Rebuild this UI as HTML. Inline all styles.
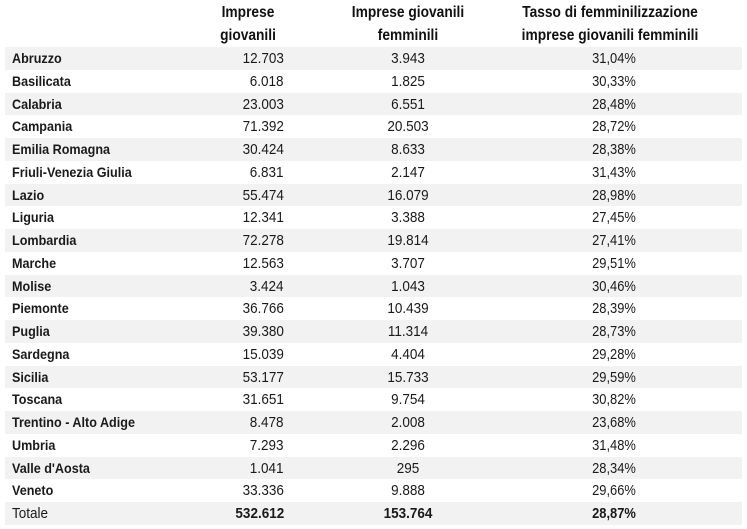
<!DOCTYPE html>
<html><head><meta charset="utf-8">
<style>
html,body{margin:0;padding:0;background:#fff;}
body{width:747px;height:529px;position:relative;overflow:hidden;font-family:"Liberation Sans",sans-serif;color:#1a1a1a;}
.h{position:absolute;font-size:16px;font-weight:bold;text-align:center;color:#111;transform:scaleX(0.86);}
.row{position:absolute;left:5px;width:737px;height:23px;}
.c{position:absolute;top:0;line-height:23px;font-size:15px;white-space:nowrap;}
.n{left:7px;font-weight:bold;font-size:14px;transform-origin:left center;transform:scaleX(0.9);}
</style></head><body>
<div class="h" style="left:188px;top:1px;width:120px;line-height:23px;">Imprese<br>giovanili</div>
<div class="h" style="left:308px;top:1px;width:200px;line-height:23px;">Imprese giovanili<br>femminili</div>
<div class="h" style="left:480px;top:1px;width:260px;line-height:23px;">Tasso di femminilizzazione<br>imprese giovanili femminili</div>
<div id="tbl"></div>
<script>
const regions=["Abruzzo","Basilicata","Calabria","Campania","Emilia Romagna","Friuli-Venezia Giulia","Lazio","Liguria","Lombardia","Marche","Molise","Piemonte","Puglia","Sardegna","Sicilia","Toscana","Trentino - Alto Adige","Umbria","Valle d'Aosta","Veneto","Totale"];
const imprese=["12.703","6.018","23.003","71.392","30.424","6.831","55.474","12.341","72.278","12.563","3.424","36.766","39.380","15.039","53.177","31.651","8.478","7.293","1.041","33.336","532.612"];
const femminili=["3.943","1.825","6.551","20.503","8.633","2.147","16.079","3.388","19.814","3.707","1.043","10.439","11.314","4.404","15.733","9.754","2.008","2.296","295","9.888","153.764"];
const tasso=["31,04%","30,33%","28,48%","28,72%","28,38%","31,43%","28,98%","27,45%","27,41%","29,51%","30,46%","28,39%","28,73%","29,28%","29,59%","30,82%","23,68%","31,48%","28,34%","29,66%","28,87%"];
const tbl=document.getElementById('tbl');
const top0=47, rh=22.76;
regions.forEach((r,i)=>{
  const row=document.createElement('div');
  row.className='row';
  
  
  row.style.top=(top0+i*rh)+'px';
  row.style.background=(i%2===0)?'#f2f2f2':'#fff';
  const tot=(i===regions.length-1);
  const mk=(txt,style,name,cls)=>{
    const c=document.createElement('div');
    c.className='c '+(cls||'');
    
    
    c.textContent=txt;c.style.cssText+=style;
    if(tot&&cls!=='n')c.style.fontWeight='bold';
    row.appendChild(c);
  };
  mk(r,tot?'font-weight:normal;font-size:15px;':'','region-name','n');
  mk(imprese[i],'right:458px;transform:scaleX(0.9);transform-origin:right center;','imprese-value');
  mk(femminili[i],'left:303px;width:200px;text-align:center;transform:scaleX(0.9);','femminili-value');
  mk(tasso[i],'right:106px;transform:scaleX(0.86);transform-origin:right center;','tasso-value');
  tbl.appendChild(row);
});
</script>
</body></html>
